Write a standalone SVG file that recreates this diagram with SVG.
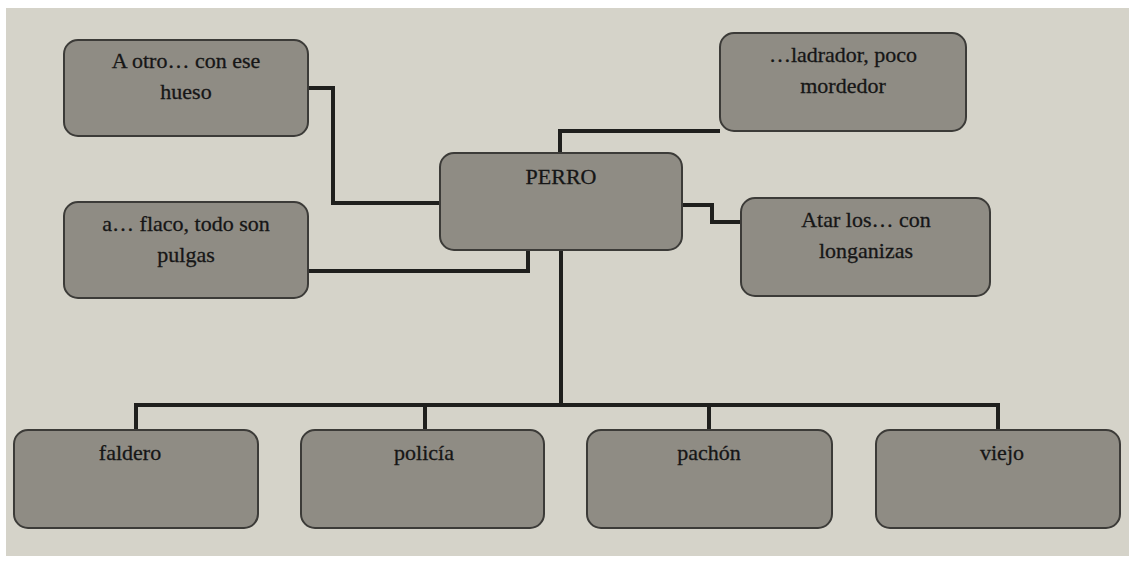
<svg xmlns="http://www.w3.org/2000/svg" width="1129" height="563" viewBox="0 0 1129 563">
<style>
.bx{fill:#8f8c84;stroke:#3c3b38;stroke-width:2}
.t{font-family:"Liberation Serif",serif;font-size:22px;fill:#161616;text-anchor:middle;stroke:#161616;stroke-width:0.3}
.c{fill:none;stroke:#1f1f1d;stroke-width:4;stroke-linejoin:miter}
</style>
<rect x="0" y="0" width="1129" height="563" fill="#ffffff"/>
<rect x="6" y="8" width="1123" height="548" fill="#d5d3c9"/>
<g id="connectors">
<polyline class="c" points="308,88 333,88 333,203 440,203"/>
<polyline class="c" points="308,271 528,271 528,250"/>
<polyline class="c" points="560,153 560,131 720,131"/>
<polyline class="c" points="682,205 712,205 712,222 741,222"/>
<polyline class="c" points="561,250 561,405"/>
<polyline class="c" points="136,430 136,405 998,405 998,430"/>
<line class="c" x1="425" y1="405" x2="425" y2="430"/>
<line class="c" x1="709" y1="405" x2="709" y2="430"/>
</g>
<g id="n_hueso"><rect class="bx" x="64" y="40" width="244" height="96" rx="14"/><text class="t" x="186" y="68">A otro… con ese</text><text class="t" x="186" y="99">hueso</text></g>
<g id="n_flaco"><rect class="bx" x="64" y="202" width="244" height="96" rx="14"/><text class="t" x="186" y="231">a… flaco, todo son</text><text class="t" x="186" y="262">pulgas</text></g>
<g id="n_perro"><rect class="bx" x="440" y="153" width="242" height="97" rx="14"/><text class="t" x="561" y="184">PERRO</text></g>
<g id="n_ladrador"><rect class="bx" x="720" y="33" width="246" height="98" rx="14"/><text class="t" x="843" y="62">…ladrador, poco</text><text class="t" x="843" y="93">mordedor</text></g>
<g id="n_atar"><rect class="bx" x="741" y="198" width="249" height="98" rx="14"/><text class="t" x="866" y="227">Atar los… con</text><text class="t" x="866" y="258">longanizas</text></g>
<g id="n_faldero"><rect class="bx" x="14" y="430" width="244" height="98" rx="14"/><text class="t" x="130" y="460">faldero</text></g>
<g id="n_policia"><rect class="bx" x="301" y="430" width="243" height="98" rx="14"/><text class="t" x="424" y="460">policía</text></g>
<g id="n_pachon"><rect class="bx" x="587" y="430" width="245" height="98" rx="14"/><text class="t" x="709" y="460">pachón</text></g>
<g id="n_viejo"><rect class="bx" x="876" y="430" width="244" height="98" rx="14"/><text class="t" x="1002" y="460">viejo</text></g>
</svg>
